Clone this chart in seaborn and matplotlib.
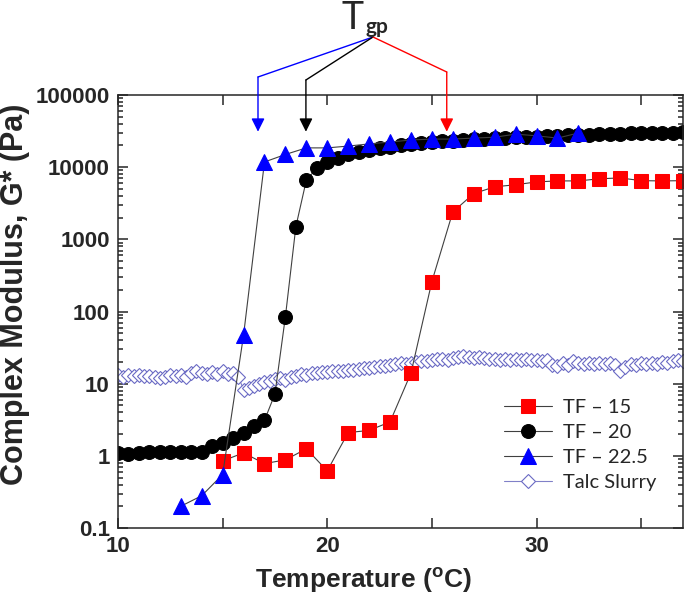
import numpy as np
import matplotlib
matplotlib.use("Agg")
import matplotlib.pyplot as plt
import matplotlib.ticker as mticker
import matplotlib.transforms as mtransforms
import seaborn as sns

# ---- data ----
tf15_temp = [15, 16, 17, 18, 19, 20, 21, 22, 23, 24, 25, 26, 27, 28, 29, 30,
             31, 32, 33, 34, 35, 36, 37]
tf15_mod = [0.85, 1.1, 0.78, 0.88, 1.25, 0.62, 2.1, 2.25, 2.95, 14, 260, 2400,
            4300, 5350, 5700, 6250, 6450, 6450, 6900, 7100, 6500, 6450, 6500]

tf20_temp = [10, 10.5, 11, 11.5, 12, 12.5, 13, 13.5, 14, 14.5, 15, 15.5, 16,
             16.5, 17, 17.5, 18, 18.5, 19, 19.5, 20, 20.5, 21, 21.5, 22, 22.5,
             23, 23.5, 24, 24.5, 25, 25.5, 26, 26.5, 27, 27.5, 28, 28.5, 29,
             29.5, 30, 30.5, 31, 31.5, 32, 32.5, 33, 33.5, 34, 34.5, 35, 35.5,
             36, 36.5, 37]
tf20_mod = [1.1, 1.05, 1.1, 1.12, 1.14, 1.12, 1.12, 1.12, 1.12, 1.35, 1.53,
            1.76, 2.1, 2.6, 3.1, 7.2, 85, 1500, 6600, 9700, 11800, 13500,
            15000, 16200, 17300, 18300, 19200, 20000, 20800, 21500, 22100,
            22700, 23200, 23700, 24200, 24600, 25000, 25400, 25800, 26200,
            26600, 27000, 27300, 27600, 27900, 28200, 28500, 28800, 29000,
            29300, 29500, 29800, 30000, 30200, 30400]

tf225_temp = [13, 14, 15, 16, 17, 18, 19, 20, 21, 22, 23, 24, 25, 26, 27, 28,
              29, 30, 31, 32]
tf225_mod = [0.2, 0.28, 0.55, 47, 11800, 15000, 18500, 18500, 19600, 21000,
             22300, 23800, 24500, 24500, 25300, 26000, 28700, 27200, 25300,
             29700]

talc_temp = list(np.arange(10, 37.01, 0.25))
talc_mod = [13, 12.5, 13, 12.8, 13.2, 12.6, 12.9, 12.2,
            11.8, 12.5, 13, 12.6, 13.3, 12.4, 14, 15,
            14.2, 13.5, 14.5, 13.8, 14.8, 13.6, 14.2, 12.5,
            8.3, 8.8, 9.2, 9.8, 10.4, 10.9, 11.5, 12,
            11.2, 12.4, 12.9, 13.4, 13.2, 14, 14.1, 14.5,
            14.4, 14.9, 15, 15.2, 15.6, 15.3, 15.9, 16.3,
            16.7, 17.1, 17.3, 17.8, 18.2, 18.9, 19.3, 18.8,
            19.6, 20.1, 20.6, 20.3, 21.2, 21.8, 22.1, 21.6,
            22.4, 23.2, 24, 23.4, 22.6, 23.5, 22.8, 21.9,
            22.3, 21.6, 22.2, 21.4, 21.7, 21.2, 21.9, 21.3,
            21.6, 20.8, 21.1, 18.2, 17.4, 19.6, 18.4, 20.3,
            19.2, 18.6, 19.1, 18.5, 19.2, 18.8, 19.4, 18.2,
            14.8, 17.2, 18.9, 18.4, 19.3, 18.7, 19.6, 19,
            20.2, 19.5, 20.6, 21.2, 20.4]

y_ticks = [0.1, 1, 10, 100, 1000, 10000, 100000]
x_ticks = [10, 20, 30]

# Tgp arrows: (colour, temperature the arrow points at, corner height in px from top)
tgp_arrows = [("#0000ff", 16.69, 77), ("black", 18.98, 80), ("#ff0000", 25.71, 72)]

# ---- style ----
sns.set_style("ticks")
plt.rcParams["font.family"] = ["Liberation Sans", "DejaVu Sans"]
plt.rcParams["mathtext.fontset"] = "custom"
plt.rcParams["mathtext.rm"] = "Liberation Sans:bold"
plt.rcParams["axes.linewidth"] = 1.1

fig = plt.figure(figsize=(6.85, 6.05), dpi=100)
ax = fig.add_axes([118 / 685, 1 - 528 / 605, 565 / 685, 433 / 605])

line_kw = dict(color="0.25", lw=0.8, ax=ax)
sns.lineplot(x=talc_temp, y=talc_mod, marker="D", ms=7.5, mfc="white",
             mec="#6a6ac4", mew=0.8, label="Talc Slurry", **line_kw)
ax.lines[-1].set_color("#8080c8")
ax.lines[-1].set_markeredgecolor("#6a6ac4")
sns.lineplot(x=tf15_temp, y=tf15_mod, marker="s", ms=9.5, mfc="#ff0000",
             mec="#ff0000", label="TF \u2013 15", **line_kw)
sns.lineplot(x=tf20_temp, y=tf20_mod, marker="o", ms=10, mfc="black",
             mec="black", label="TF \u2013 20", **line_kw)
sns.lineplot(x=tf225_temp, y=tf225_mod, marker="^", ms=11, mfc="#0000ff",
             mec="#0000ff", label="TF \u2013 22.5", **line_kw)

ax.set_yscale("log")
ax.set_xlim(10, 37)
ax.set_ylim(0.1, 100000)

ax.set_yticks(y_ticks)
ax.yaxis.set_major_formatter(mticker.FuncFormatter(
    lambda v, _: f"{v:.0f}" if v >= 1 else f"{v:g}"))
ax.yaxis.set_minor_locator(mticker.LogLocator(base=10, subs=np.arange(2, 10)))
ax.yaxis.set_minor_formatter(mticker.NullFormatter())
ax.set_xticks(x_ticks)
ax.xaxis.set_minor_locator(mticker.MultipleLocator(5))

ax.tick_params(which="both", direction="in", top=True, right=True, width=1.1)
ax.tick_params(which="major", length=7, labelsize=16, pad=6)
ax.tick_params(axis="y", which="minor", length=3.5)
ax.tick_params(axis="x", which="minor", length=7)
for lab in ax.get_xticklabels() + ax.get_yticklabels():
    lab.set_fontweight("bold")

ax.set_xlabel(r"Temperature ($\mathrm{^o}$C)", fontsize=19, fontweight="bold")
ax.set_ylabel("Complex Modulus, G* (Pa)", fontsize=22, fontweight="bold")
ax.xaxis.set_label_coords(0.435, -0.088)
ax.yaxis.set_label_coords(-0.155, 0.54)

# legend in the lower right
handles, labels = ax.get_legend_handles_labels()
order = [1, 2, 3, 0]
ax.legend([handles[i] for i in order], [labels[i] for i in order],
          loc="lower right", bbox_to_anchor=(0.952, 0.085), frameon=False,
          borderpad=0, borderaxespad=0,
          prop={"family": "Lato", "size": 14.5}, handlelength=2.4,
          handletextpad=0.5, labelspacing=0.4)

# Tgp label and arrows
apex = (373 / 685, 1 - 37 / 605)
fig.text(364 / 685, 1 - 29 / 605, "T", fontsize=27, ha="right", va="baseline",
         family="Lato")
fig.text(366 / 685, 1 - 33 / 605, "gp", fontsize=15, ha="left", va="baseline",
         family="Lato", fontweight="bold")
blend = mtransforms.blended_transform_factory(ax.transData, fig.transFigure)
for colour, temp, corner_px in tgp_arrows:
    corner = (temp, 1 - corner_px / 605)
    ax.annotate("", xy=corner, xycoords=blend, xytext=apex,
                textcoords="figure fraction", annotation_clip=False,
                arrowprops=dict(arrowstyle="-", color=colour, lw=1.0,
                                shrinkA=0, shrinkB=0))
    ax.annotate("", xy=(temp, 31000), xycoords="data", xytext=corner,
                textcoords=blend, annotation_clip=False,
                arrowprops=dict(arrowstyle="-|>", color=colour, lw=1.0,
                                mutation_scale=20, shrinkA=0, shrinkB=0))

fig.savefig("out.png", dpi=100)
